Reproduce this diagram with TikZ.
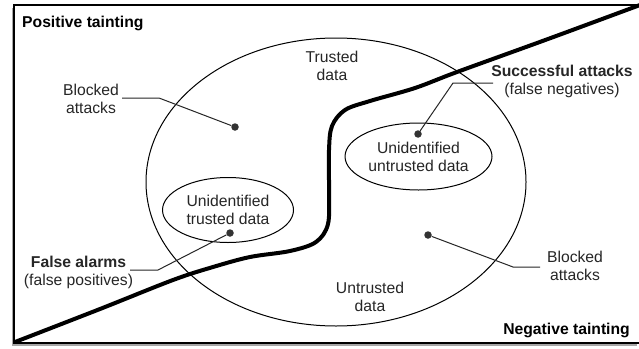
\documentclass[tikz,border=0pt]{standalone}
\usepackage{fontspec}
\setmainfont{Liberation Sans}
\usetikzlibrary{shapes.geometric}
\begin{document}
\begin{tikzpicture}[x=1pt,y=-1pt,
  lbl/.style={font=\fontsize{15.7}{18}\selectfont, align=center, inner sep=0pt, text=black!85},
  boldlbl/.style={font=\fontsize{15.7}{18}\selectfont\bfseries, inner sep=0pt},
  leader/.style={line width=1pt, black!85},
  dot/.style={circle, fill=black!80, inner sep=0pt, minimum size=7.5pt},
  region/.style={ellipse, draw, line width=1pt, inner sep=0pt},
  boundary/.style={line width=4pt, line join=round, line cap=round}]
\useasboundingbox (0,0) rectangle (639,348);
% frame with shadow
\fill[black!35] (12,8) rectangle (637,346);
\draw[fill=white, line width=1.3pt] (14,5) rectangle (642,343);
% regions
\node[region, minimum width=380pt, minimum height=288pt] (big) at (336,182) {};
\node[region, lbl, minimum width=131pt, minimum height=65pt] (utd) at (228,210) {Unidentified\\trusted data};
\node[region, lbl, minimum width=147pt, minimum height=67pt] (uud) at (418.5,156.5) {Unidentified\\untrusted data};
% tainting boundary
\draw[boundary] plot[smooth, tension=0.55] coordinates {
  (15,342) (100,309) (173,280) (213,267) (250,257) (290,251) (316,242)
  (328,224) (329,190) (329,150) (332,126) (345,110) (370,101) (415,88)
  (457,72) (548,39) (640,5)};
% labels
\node[boldlbl, anchor=west] (pos) at (22,23) {Positive tainting};
\node[boldlbl, anchor=east] (neg) at (630,330) {Negative tainting};
\node[lbl] (trusted) at (332,66) {Trusted\\data};
\node[lbl] (untrusted) at (370,296.5) {Untrusted\\data};
\node[lbl] (ba1) at (91,99) {Blocked\\attacks};
\node[lbl] (ba2) at (575,266) {Blocked\\attacks};
\node[lbl] (sa) at (562,81.5) {\textbf{Successful attacks}\\(false negatives)};
\node[lbl] (fa) at (78.5,272) {\textbf{False alarms}\\(false positives)};
% dots
\node[dot] (d1) at (235,127) {};
\node[dot] (d2) at (418,134) {};
\node[dot] (d3) at (230,233) {};
\node[dot] (d4) at (428,235) {};
% leader points
\coordinate (e1) at (122,98);  \coordinate (k1) at (159,98);
\coordinate (e2) at (493,83);  \coordinate (k2) at (453,83);
\coordinate (e3) at (130,270); \coordinate (k3) at (158,270);
\coordinate (e4) at (540,267); \coordinate (k4) at (513,267);
\draw[leader] (e1) -- (k1) -- (d1);
\draw[leader] (e2) -- (k2) -- (d2);
\draw[leader] (e3) -- (k3) -- (d3);
\draw[leader] (e4) -- (k4) -- (d4);
\end{tikzpicture}
\end{document}
